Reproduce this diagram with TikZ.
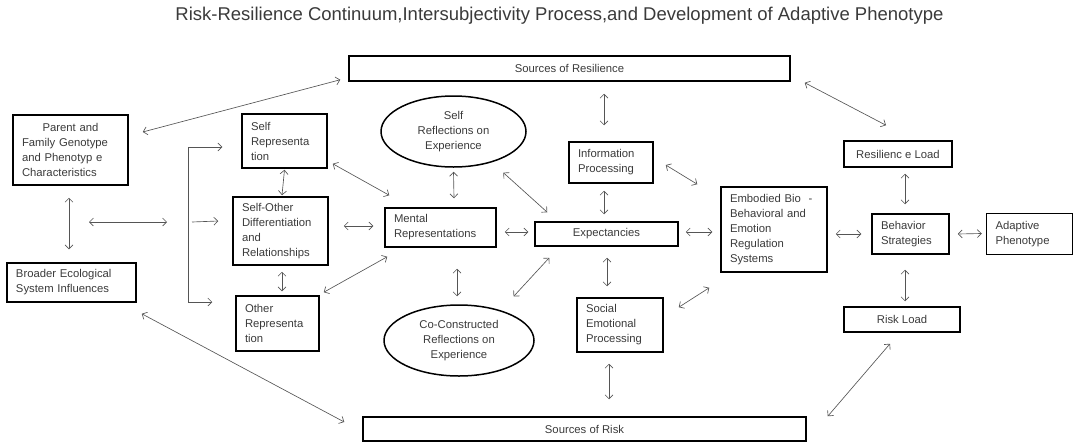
\documentclass[tikz,border=0pt]{standalone}
\usepackage{fontspec}
\setmainfont{Liberation Sans}
\usetikzlibrary{shapes.geometric,arrows.meta,positioning}
\definecolor{InkGray}{HTML}{3A3A3A}
\definecolor{LinkGray}{HTML}{555555}

\begin{document}
\begin{tikzpicture}[x=1pt,y=-1pt,
  box/.style={rectangle,draw=black,line width=1.5pt,text=InkGray,
              font=\fontsize{11.3}{15}\selectfont,inner xsep=9pt,inner ysep=2pt,align=left},
  cbox/.style={box,align=center},
  oval/.style={ellipse,draw=black,line width=1.5pt,text=InkGray,
               font=\fontsize{11.3}{15}\selectfont,align=center,inner sep=0pt},
  link/.style={draw=LinkGray,line width=0.65pt,
               {Straight Barb[length=4pt,width=8pt]}-{Straight Barb[length=4pt,width=8pt]}},
  feed/.style={draw=LinkGray,line width=0.65pt,-{Straight Barb[length=4pt,width=8pt]}}
]
\useasboundingbox (0,0) rectangle (1075,442);

\node[text=InkGray,font=\fontsize{18.5}{20}\selectfont] (title) at (559.5,16)
  {Risk-Resilience Continuum,Intersubjectivity Process,and Development of Adaptive Phenotype};

% sources
\node[cbox,minimum width=441pt,minimum height=25pt] (res) at (569.5,68.5) {Sources of Resilience};
\node[cbox,minimum width=443pt,minimum height=24pt] (risk) at (584.5,429) {Sources of Risk};

% left column
\node[box,text width=97pt,minimum height=70pt] (parent) at (70.5,150)
  {\makebox[97pt]{Parent and}\\Family Genotype\\and Phenotyp e\\Characteristics};
\node[box,text width=111pt,minimum height=39pt] (broader) at (71.5,282.5)
  {Broader Ecological\\System Influences};

\node[box,text width=67pt,minimum height=54pt] (selfrep) at (284.5,141) {Self\\Representa\\tion};
\node[box,text width=77pt,minimum height=68pt] (selfother) at (280.5,231)
  {Self-Other\\Differentiation\\and\\Relationships};
\node[box,text width=65pt,minimum height=55pt] (otherrep) at (277.5,323.5) {Other\\Representa\\tion};

% middle
\node[oval,minimum width=145pt,minimum height=71pt] (selfrefl) at (453.5,131.5)
  {Self\\Reflections on\\Experience};
\node[box,text width=93pt,minimum height=39pt] (mental) at (440.5,227.5) {Mental\\Representations};
\node[oval,minimum width=150pt,minimum height=71pt] (corefl) at (459,340.5)
  {Co-Constructed\\Reflections on\\Experience};

\node[box,text width=66pt,minimum height=41pt] (info) at (611,162.5) {Information\\Processing};
\node[cbox,minimum width=143pt,minimum height=24pt] (expect) at (606.5,234) {Expectancies};
\node[box,text width=68pt,minimum height=54pt] (social) at (620,325) {Social\\Emotional\\Processing};

% right
\node[box,text width=88pt,minimum height=85pt] (embodied) at (774,229.5)
  {Embodied Bio\ \ -\\Behavioral and\\Emotion\\Regulation\\Systems};
\node[cbox,minimum width=108pt,minimum height=26pt] (resload) at (898,154) {Resilienc e Load};
\node[box,text width=59pt,minimum height=40pt] (strat) at (910.5,234) {Behavior\\Strategies};
\node[box,text width=68pt,minimum height=41pt,right=36pt of strat] (adaptive) {Adaptive\\Phenotype};
\node[cbox,minimum width=116pt,minimum height=25pt] (riskload) at (902,319.5) {Risk Load};

% fork into the representations
\coordinate (spinetop) at (188,147);
\coordinate (spinebot) at (188,302);
\coordinate (spinemid) at (188,222);
\draw[draw=LinkGray,line width=0.65pt] (spinetop) -- (spinebot);
\draw[feed] (spinetop) -- ([shift={(-19,6)}]selfrep.west);
\draw[feed] ([xshift=4]spinemid) -- ([shift={(-14,-10)}]selfother.west);
\draw[feed] (spinebot) -- ([shift={(-23,-21.5)}]otherrep.west);
\draw[link] ([xshift=-99]spinemid) -- ([xshift=-21]spinemid);

% connectors
\draw[link] ([shift={(14,-18)}]parent.east) -- ([shift={(-8,-2)}]res.south west);
\draw[link] ([shift={(-1.5,12)}]parent.south) -- ([shift={(-2.5,-13)}]broader.north);
\draw[link] ([shift={(5,11)}]broader.south east) -- ([shift={(-18,-7)}]risk.west);
\draw[link] ([shift={(14,1)}]res.south east) -- ([shift={(-12,-15)}]resload.north);
\draw[link] ([shift={(34.5,12)}]res.south) -- ([shift={(-7,-16)}]info.north);
\draw[link] ([shift={(0,1)}]selfrep.south) -- ([shift={(1.5,-1)}]selfother.north);
\draw[link] ([shift={(1.5,6)}]selfother.south) -- ([shift={(4.5,-4)}]otherrep.north);
\draw[link] ([shift={(5,-5)}]selfrep.south east) -- ([shift={(5,-12)}]mental.north west);
\draw[link] ([shift={(15,-5)}]selfother.east) -- ([shift={(-11,-1.5)}]mental.west);
\draw[link] ([shift={(4,-3)}]otherrep.north east) -- ([shift={(3,9)}]mental.south west);
\draw[link] ([shift={(0,4)}]selfrefl.south) -- ([shift={(13.5,-9)}]mental.north);
\draw[link] ([shift={(-2,15.5)}]selfrefl.south east) -- ([shift={(13,-9)}]expect.north west);
\draw[link] ([shift={(8,4.5)}]mental.east) -- ([shift={(-6,-2)}]expect.west);
\draw[link] ([shift={(16.5,21)}]mental.south) -- ([shift={(-2,-8)}]corefl.north);
\draw[link] ([shift={(1,-18.4)}]corefl.north east) -- ([shift={(15,11)}]expect.south west);
\draw[link] ([shift={(-7,7)}]info.south) -- ([shift={(-2.5,-7)}]expect.north);
\draw[link] ([shift={(12,2.5)}]info.east) -- ([shift={(-23,-2)}]embodied.north west);
\draw[link] ([shift={(7,-2)}]expect.east) -- ([shift={(-8,2.5)}]embodied.west);
\draw[link] ([shift={(0.5,11)}]expect.south) -- ([shift={(-13,-11)}]social.north);
\draw[link] ([shift={(15,10)}]social.north east) -- ([shift={(-11,15)}]embodied.south west);
\draw[link] ([shift={(-11,11)}]social.south) -- ([shift={(24.5,-17)}]risk.north);
\draw[link] ([shift={(8,4.5)}]embodied.east) -- ([shift={(-10,0)}]strat.west);
\draw[link] ([shift={(7,6)}]resload.south) -- ([shift={(-5.5,-9)}]strat.north);
\draw[link] ([shift={(8,0)}]strat.east) -- ([shift={(-4,-0.5)}]adaptive.west);
\draw[link] ([shift={(-5.5,15)}]strat.south) -- ([shift={(3,-5)}]riskload.north);
\draw[link] ([shift={(-12,11)}]riskload.south) -- ([shift={(21,0)}]risk.north east);
\end{tikzpicture}
\end{document}
